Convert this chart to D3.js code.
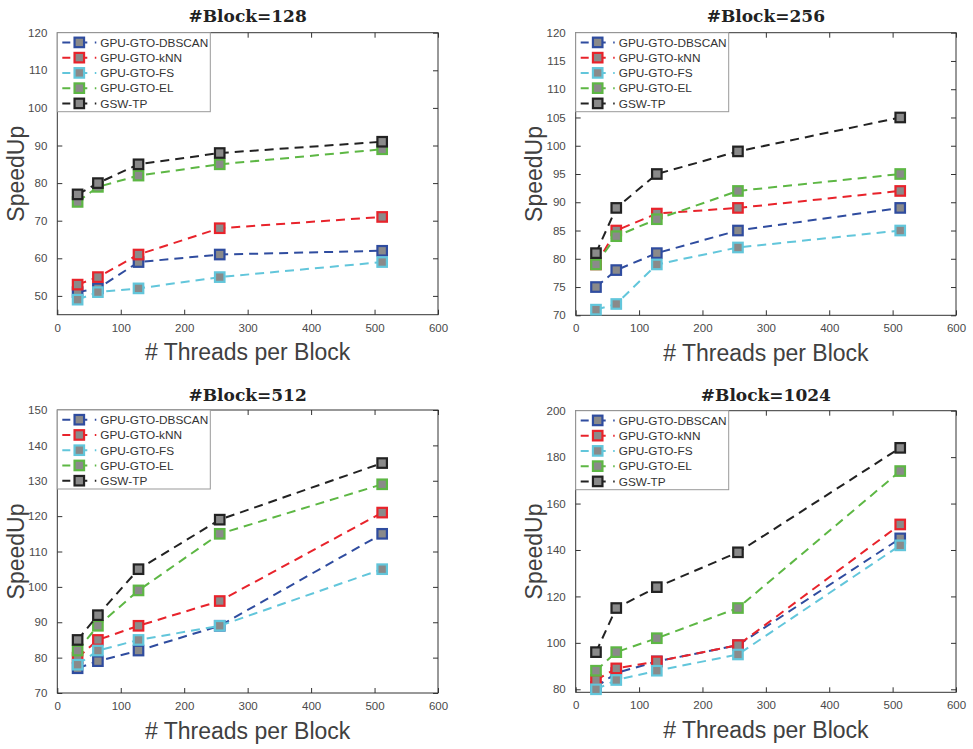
<!DOCTYPE html>
<html>
<head>
<meta charset="utf-8">
<script src="https://cdn.jsdelivr.net/npm/d3@7"></script>
<style>
  body { margin: 0; background: #fff; }
  svg { display: block; }
  text { font-family: "Liberation Sans", Arial, Helvetica, sans-serif; }
</style>
</head>
<body>
<svg id="chart" width="973" height="749"></svg>
<script>
// data
const threads = [32, 64, 128, 256, 512];
const seriesNames = ['GPU-GTO-DBSCAN', 'GPU-GTO-kNN', 'GPU-GTO-FS', 'GPU-GTO-EL', 'GSW-TP'];
const blocks = [128, 256, 512, 1024];

const speedup128 = [
  [51, 52, 59, 61, 62],
  [53, 55, 61, 68, 71],
  [49, 51, 52, 55, 59],
  [75, 79, 82, 85, 89],
  [77, 80, 85, 88, 91]
];
const speedup256 = [
  [75, 78, 81, 85, 89],
  [79, 85, 88, 89, 92],
  [71, 72, 79, 82, 85],
  [79, 84, 87, 92, 95],
  [81, 89, 95, 99, 105]
];
const speedup512 = [
  [77, 79, 82, 89, 115],
  [80, 85, 89, 96, 121],
  [78, 82, 85, 89, 105],
  [82, 89, 99, 115, 129],
  [85, 92, 105, 119, 135]
];
const speedup1024 = [
  [81, 87, 92, 99, 145],
  [84, 89, 92, 99, 151],
  [80, 84, 88, 95, 142],
  [88, 96, 102, 115, 174],
  [96, 115, 124, 139, 184]
];

const yDomains = [[45, 120], [70, 120], [70, 150], [78.7, 200]];
const yTicks = [
  [50, 60, 70, 80, 90, 100, 110, 120],
  [70, 75, 80, 85, 90, 95, 100, 105, 110, 115, 120],
  [70, 80, 90, 100, 110, 120, 130, 140, 150],
  [80, 100, 120, 140, 160, 180, 200]
];
const xTicks = [0, 100, 200, 300, 400, 500, 600];

const allData = [speedup128, speedup256, speedup512, speedup1024];

// styling
const colors = ['#2f4c9f', '#e8232b', '#62c6db', '#5db744', '#222222'];
const markerFill = '#8a8a8a';
const boxes = [
  { left: 57.3,  right: 438, top: 32.7,  bottom: 314.7, titleY: 22 },
  { left: 575.7, right: 956, top: 32.7,  bottom: 315.3, titleY: 22 },
  { left: 57.3,  right: 438, top: 410,   bottom: 693,   titleY: 401 },
  { left: 575.7, right: 956, top: 410.7, bottom: 692.3, titleY: 401 }
];

const svg = d3.select('#chart');

function drawPanel(i) {
  const b = boxes[i];
  const data = allData[i];
  const g = svg.append('g');

  const x = d3.scaleLinear().domain([0, 600]).range([b.left, b.right]);
  const y = d3.scaleLinear().domain(yDomains[i]).range([b.bottom, b.top]);

  // axes, MATLAB-style boxed with inward ticks
  g.append('g')
    .attr('transform', `translate(0,${b.bottom})`)
    .call(d3.axisBottom(x).tickValues(xTicks).tickSizeInner(-5).tickSizeOuter(0).tickPadding(9))
    .call(a => a.select('.domain').remove());
  g.append('g')
    .attr('transform', `translate(0,${b.top})`)
    .call(d3.axisTop(x).tickValues(xTicks).tickSizeInner(-5).tickSizeOuter(0).tickFormat(''))
    .call(a => a.select('.domain').remove());
  g.append('g')
    .attr('transform', `translate(${b.left},0)`)
    .call(d3.axisLeft(y).tickValues(yTicks[i]).tickSizeInner(-5).tickSizeOuter(0).tickPadding(10))
    .call(a => a.select('.domain').remove());
  g.append('g')
    .attr('transform', `translate(${b.right},0)`)
    .call(d3.axisRight(y).tickValues(yTicks[i]).tickSizeInner(-5).tickSizeOuter(0).tickFormat(''))
    .call(a => a.select('.domain').remove());

  g.selectAll('.tick line').attr('stroke', '#333');
  g.selectAll('.tick text')
    .attr('fill', '#4a4a4a')
    .style('font-size', '11.5px')
    .style('font-family', '"Liberation Sans", Arial, sans-serif');

  g.append('rect')
    .attr('x', b.left).attr('y', b.top)
    .attr('width', b.right - b.left).attr('height', b.bottom - b.top)
    .attr('fill', 'none').attr('stroke', '#333').attr('stroke-width', 1);

  // series
  const line = d3.line().x((d, j) => x(threads[j])).y(d => y(d));
  data.forEach((vals, s) => {
    g.append('path')
      .datum(vals)
      .attr('fill', 'none')
      .attr('stroke', colors[s])
      .attr('stroke-width', 2)
      .attr('stroke-dasharray', '9,6')
      .attr('d', line);
    g.append('g')
      .selectAll('rect')
      .data(vals)
      .join('rect')
        .attr('x', (d, j) => x(threads[j]) - 4.75)
        .attr('y', d => y(d) - 4.75)
        .attr('width', 9.5)
        .attr('height', 9.5)
        .attr('fill', markerFill)
        .attr('stroke', colors[s])
        .attr('stroke-width', 2.2);
  });

  // legend
  const lg = g.append('g').attr('transform', `translate(${b.left},${b.top})`);
  lg.append('rect')
    .attr('width', 153).attr('height', 79)
    .attr('fill', '#fff').attr('stroke', '#999').attr('stroke-width', 1);
  seriesNames.forEach((name, s) => {
    const cy = 9.7 + s * 15.25;
    lg.append('line')
      .attr('x1', 5).attr('x2', 39).attr('y1', cy).attr('y2', cy)
      .attr('stroke', colors[s]).attr('stroke-width', 2)
      .attr('stroke-dasharray', '8,4.5,12.5,7.5,1.5,20');
    lg.append('rect')
      .attr('x', 22 - 4.75).attr('y', cy - 4.75)
      .attr('width', 9.5).attr('height', 9.5)
      .attr('fill', markerFill).attr('stroke', colors[s]).attr('stroke-width', 2.2);
    lg.append('text')
      .attr('x', 43).attr('y', cy + 4.3)
      .attr('fill', '#333')
      .style('font-size', '11.8px')
      .text(name);
  });

  // titles and labels
  g.append('text')
    .attr('x', (b.left + b.right) / 2).attr('y', b.titleY)
    .attr('text-anchor', 'middle')
    .attr('fill', '#222')
    .style('font-family', '"DejaVu Serif", serif')
    .style('font-weight', 'bold')
    .style('font-size', '17px')
    .text(`#Block=${blocks[i]}`);

  g.append('text')
    .attr('transform', `translate(${b.left - 33.5},${(b.top + b.bottom) / 2}) rotate(-90)`)
    .attr('text-anchor', 'middle')
    .attr('fill', '#404040')
    .style('font-size', '23px')
    .text('SpeedUp');

  g.append('text')
    .attr('x', (b.left + b.right) / 2).attr('y', b.bottom + 45.5)
    .attr('text-anchor', 'middle')
    .attr('fill', '#404040')
    .style('font-size', '23px')
    .text('# Threads per Block');
}

blocks.forEach((d, i) => drawPanel(i));
</script>
</body>
</html>
